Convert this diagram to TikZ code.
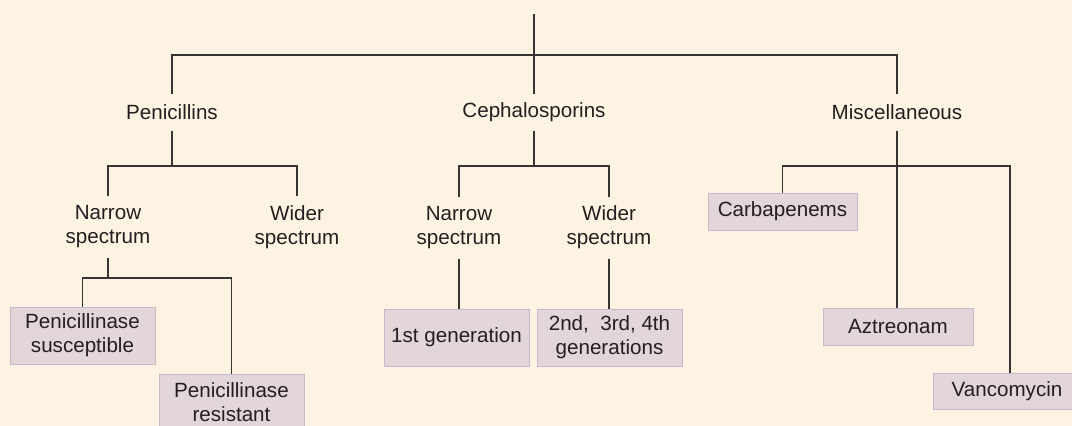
\documentclass[tikz,border=0pt]{standalone}
\usepackage{fontspec}
\setmainfont{Liberation Sans}
\definecolor{bg}{RGB}{253,243,226}
\definecolor{boxfill}{RGB}{226,214,216}
\definecolor{boxline}{RGB}{200,182,206}
\definecolor{ink}{RGB}{35,31,32}
\definecolor{wire}{RGB}{55,52,52}
\begin{document}
\begin{tikzpicture}[x=1pt,y=-1pt,
  every node/.style={font=\fontsize{20.6}{24}\selectfont, text=ink, align=center, inner sep=0pt, outer sep=0pt},
  lbl/.style={minimum width=60pt},
  drugbox/.style={draw=boxline, fill=boxfill, line width=1pt},
  wirestyle/.style={draw=wire, line width=1.3pt}]
\useasboundingbox (0,0) rectangle (1072,426);
\clip (0,0) rectangle (1072,426);
\fill[bg] (0,0) rectangle (1072,426);
% top level
\coordinate (root) at (534,14);
\coordinate (top) at (534,55);
\node[lbl, minimum height=37pt] (pen) at (172,112.5) {Penicillins};
\node[lbl, minimum height=37pt] (ceph) at (534,112.5) {Cephalosporins};
\node[lbl, minimum height=37pt] (misc) at (897,112.5) {Miscellaneous};
% second level
\node[lbl, minimum height=62pt] (pnar) at (108,227) {Narrow\\spectrum};
\node[lbl, minimum height=62pt] (pwid) at (297,227) {Wider\\spectrum};
\node[lbl, minimum height=62pt] (cnar) at (459,227.5) {Narrow\\spectrum};
\node[lbl, minimum height=62pt] (cwid) at (609,227.5) {Wider\\spectrum};
\coordinate (b1) at (172,166);
\coordinate (b2) at (534,166);
\coordinate (b3) at (897,166);
\coordinate (b4) at (108,278);
% boxes
\node[drugbox, minimum width=145pt, minimum height=57pt] (psus) at (82.5,335.5) {Penicillinase\\susceptible};
\node[drugbox, minimum width=145pt, minimum height=57pt] (pres) at (231.5,402.5) {Penicillinase\\resistant};
\node[drugbox, minimum width=145pt, minimum height=57pt] (gen1) at (456.5,337.5) {1st generation};
\node[drugbox, minimum width=145pt, minimum height=57pt] (gen2) at (609.5,337.5) {2nd,\ \ 3rd, 4th\\generations};
\node[drugbox, minimum width=149pt, minimum height=37pt] (carb) at (782.5,211.5) {Carbapenems};
\node[drugbox, minimum width=150pt, minimum height=37pt] (azt) at (898,326.5) {Aztreonam};
\node[drugbox, minimum width=148pt, minimum height=36pt] (vanc) at (1007,391) {Vancomycin};
% connectors
\draw[wirestyle] (root) -- (top);
\draw[wirestyle] (pen.north) |- (top) -| (misc.north);
\draw[wirestyle] (top) -- (ceph.north);
\draw[wirestyle] (pen.south) -- (b1);
\draw[wirestyle] (pnar.north) |- (b1) -| (pwid.north);
\draw[wirestyle] (ceph.south) -- (b2);
\draw[wirestyle] (cnar.north) |- (b2) -| (cwid.north);
\draw[wirestyle] (misc.south) -- (b3);
\draw[wirestyle] (carb.north) |- (b3) -| (vanc.north -| 1010,0);
\draw[wirestyle] (b3) -- (b3 |- azt.north);
\draw[wirestyle] (pnar.south) -- (b4);
\draw[wirestyle] (psus.north) |- (b4) -| (pres.north);
\draw[wirestyle] (cnar.south) -- (cnar.south |- gen1.north);
\draw[wirestyle] (cwid.south) -- (cwid.south |- gen2.north);
\end{tikzpicture}
\end{document}
